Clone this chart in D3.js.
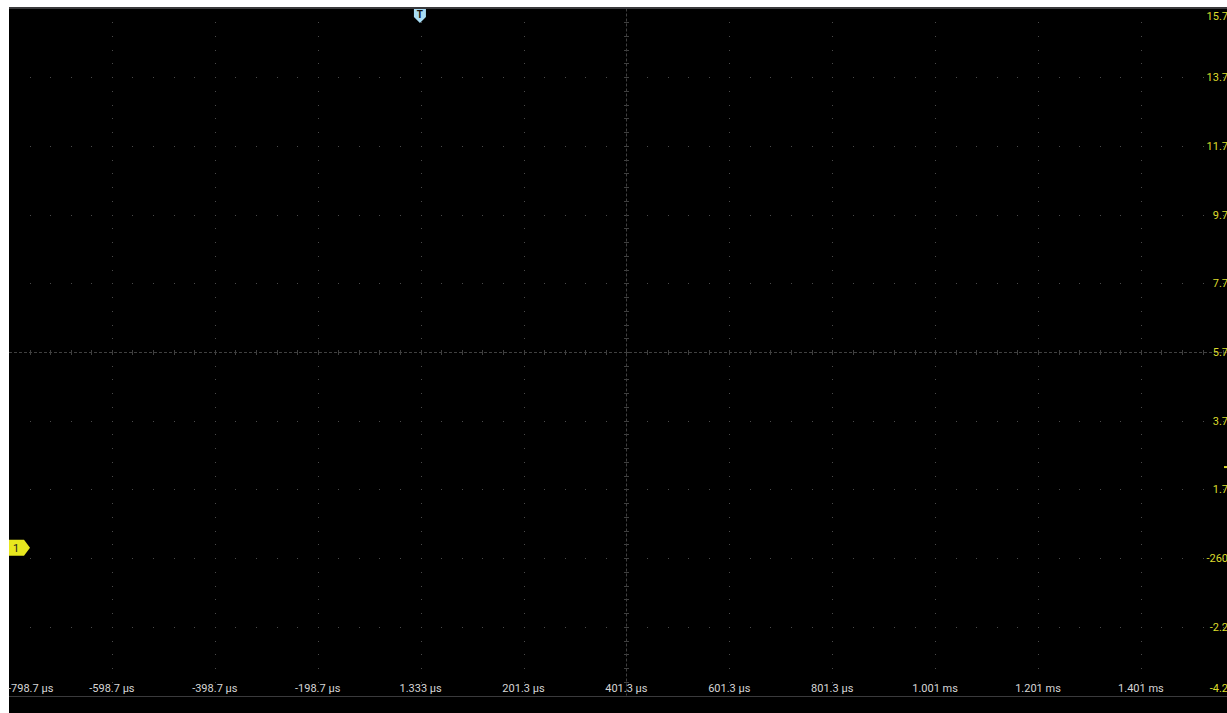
<!DOCTYPE html>
<meta charset="utf-8">
<title>scope</title>
<style>
  body { margin: 0; background: #fff; overflow: hidden; }
  svg { display: block; }
  text { font-family: Roboto, "Noto Sans", sans-serif; }
</style>
<body>
<div id="scope"></div>
</body>
<script src="https://d3js.org/d3.v7.min.js"></script>
<script>

// horizontal: time per division ticks (µs)
var timeTicks = [-798.7, -598.7, -398.7, -198.7, 1.333, 201.3, 401.3, 601.3, 801.3, 1001.3, 1201.3, 1401.3];
var timeLabels = ["-798.7 µs", "-598.7 µs", "-398.7 µs", "-198.7 µs", "1.333 µs", "201.3 µs",
                  "401.3 µs", "601.3 µs", "801.3 µs", "1.001 ms", "1.201 ms", "1.401 ms"];

// vertical: volts per division ticks
var voltTicks = [15.7, 13.7, 11.7, 9.7, 7.7, 5.7, 3.7, 1.7, -0.3, -2.3, -4.3];
var voltLabels = ["15.7", "13.7", "11.7", "9.7", "7.7", "5.7", "3.7", "1.7", "-260", "-2.2", "-4.2"];

var triggerTime = 0;      // µs
var channelOffset = 0;    // V, channel 1 ground marker
var triggerLevel = 2.35;  // V, small marker on the right edge

var W = 1227, H = 713;
var plotLeft = 9, plotTop = 8.5, divW = 102.9, divH = 68.7;

var svg = d3.select("#scope").append("svg")
  .attr("width", W)
  .attr("height", H);

var xscale = d3.scaleLinear()
  .domain([-798.7, 1601.3])
  .range([plotLeft, plotLeft + 12 * divW]);

var yscale = d3.scaleLinear()
  .domain([-4.3, 15.7])
  .range([plotTop + 10 * divH, plotTop]);

// black screen
svg.append("rect")
  .attr("x", plotLeft).attr("y", 7)
  .attr("width", W - plotLeft).attr("height", H - 7)
  .attr("fill", "#000");

// top border
svg.append("rect")
  .attr("x", plotLeft).attr("y", 7)
  .attr("width", W - plotLeft).attr("height", 2)
  .attr("fill", "#3a3a3c");

// dotted grid on the major lines
var centerT = 401.3, centerV = 5.7;
var minorT = d3.range(0, 61).map(function(k) { return -798.7 + k * 40; });
var minorV = d3.range(0, 51).map(function(k) { return 15.7 - k * 0.4; });

var grid = svg.append("g").attr("fill", "#4a4a4a");

timeTicks.slice(1).forEach(function(t) {
  if (t === centerT) return;
  grid.selectAll(null)
    .data(minorV.slice(1, -1))
    .enter().append("rect")
    .attr("x", Math.round(xscale(t)))
    .attr("y", function(v) { return Math.round(yscale(v)); })
    .attr("width", 1).attr("height", 1);
});

voltTicks.slice(1, -1).forEach(function(v) {
  if (v === centerV) return;
  grid.selectAll(null)
    .data(minorT.slice(1))
    .enter().append("rect")
    .attr("x", function(t) { return Math.round(xscale(t)); })
    .attr("y", Math.round(yscale(v)))
    .attr("width", 1).attr("height", 1);
});

// centre crosshair with ticks
var cx = Math.round(xscale(centerT)) + 0.5, cy = Math.round(yscale(centerV)) + 0.5;
var cross = svg.append("g")
  .attr("stroke", "#404040")
  .attr("stroke-width", 1);

cross.append("line")
  .attr("x1", plotLeft).attr("x2", W)
  .attr("y1", cy).attr("y2", cy)
  .attr("stroke-dasharray", "3,2");

cross.append("line")
  .attr("x1", cx).attr("x2", cx)
  .attr("y1", plotTop).attr("y2", yscale(-4.3))
  .attr("stroke-dasharray", "3,2");

cross.selectAll("line.tx")
  .data(minorT.slice(1))
  .enter().append("line")
  .attr("class", "tx")
  .attr("x1", function(t) { return Math.round(xscale(t)) + 0.5; })
  .attr("x2", function(t) { return Math.round(xscale(t)) + 0.5; })
  .attr("y1", cy - 2.5).attr("y2", cy + 2.5);

cross.selectAll("line.ty")
  .data(minorV.slice(1, -1))
  .enter().append("line")
  .attr("class", "ty")
  .attr("y1", function(v) { return Math.round(yscale(v)) + 0.5; })
  .attr("y2", function(v) { return Math.round(yscale(v)) + 0.5; })
  .attr("x1", cx - 2.5).attr("x2", cx + 2.5);

// bottom border
svg.append("rect")
  .attr("x", plotLeft).attr("y", Math.round(yscale(-4.3)))
  .attr("width", W - plotLeft).attr("height", 1)
  .attr("fill", "#3a3a3c");

// time labels
svg.append("g").selectAll("text")
  .data(timeTicks)
  .enter().append("text")
  .attr("x", function(d, i) { return i === 0 ? plotLeft - 1 : xscale(d); })
  .attr("y", 692)
  .attr("text-anchor", function(d, i) { return i === 0 ? "start" : "middle"; })
  .attr("font-size", 11)
  .attr("fill", "#d6d6d6")
  .text(function(d, i) { return timeLabels[i]; });

// volt labels
svg.append("g").selectAll("text")
  .data(voltTicks)
  .enter().append("text")
  .attr("x", 1228)
  .attr("y", function(d) {
    var y = Math.min(Math.max(yscale(d), 15.5), 688);
    return y + 4;
  })
  .attr("text-anchor", "end")
  .attr("font-size", 11)
  .attr("fill", "#dcdc2c")
  .text(function(d, i) { return voltLabels[i]; });

// trigger level marker (right edge)
svg.append("rect")
  .attr("x", 1224).attr("y", yscale(triggerLevel) - 1)
  .attr("width", 3).attr("height", 2)
  .attr("fill", "#dcdc2c");

// channel 1 marker
var my = yscale(channelOffset);
svg.append("path")
  .attr("d", "M" + plotLeft + "," + (my - 8) + "H" + (plotLeft + 15) + "L" + (plotLeft + 21) + "," + my +
             "L" + (plotLeft + 15) + "," + (my + 8) + "H" + plotLeft + "Z")
  .attr("fill", "#e8e81e");
svg.append("text")
  .attr("x", plotLeft + 7).attr("y", my + 4)
  .attr("text-anchor", "middle")
  .attr("font-size", 11)
  .attr("fill", "#222")
  .text("1");

// trigger time marker
var tx = xscale(triggerTime);
svg.append("path")
  .attr("d", "M" + (tx - 6) + ",9H" + (tx + 6) + "V17L" + tx + ",23L" + (tx - 6) + ",17Z")
  .attr("fill", "#a8dcf4");
svg.append("text")
  .attr("x", tx).attr("y", 18)
  .attr("text-anchor", "middle")
  .attr("font-size", 10)
  .attr("font-weight", "bold")
  .attr("fill", "#111")
  .text("T");

</script>
